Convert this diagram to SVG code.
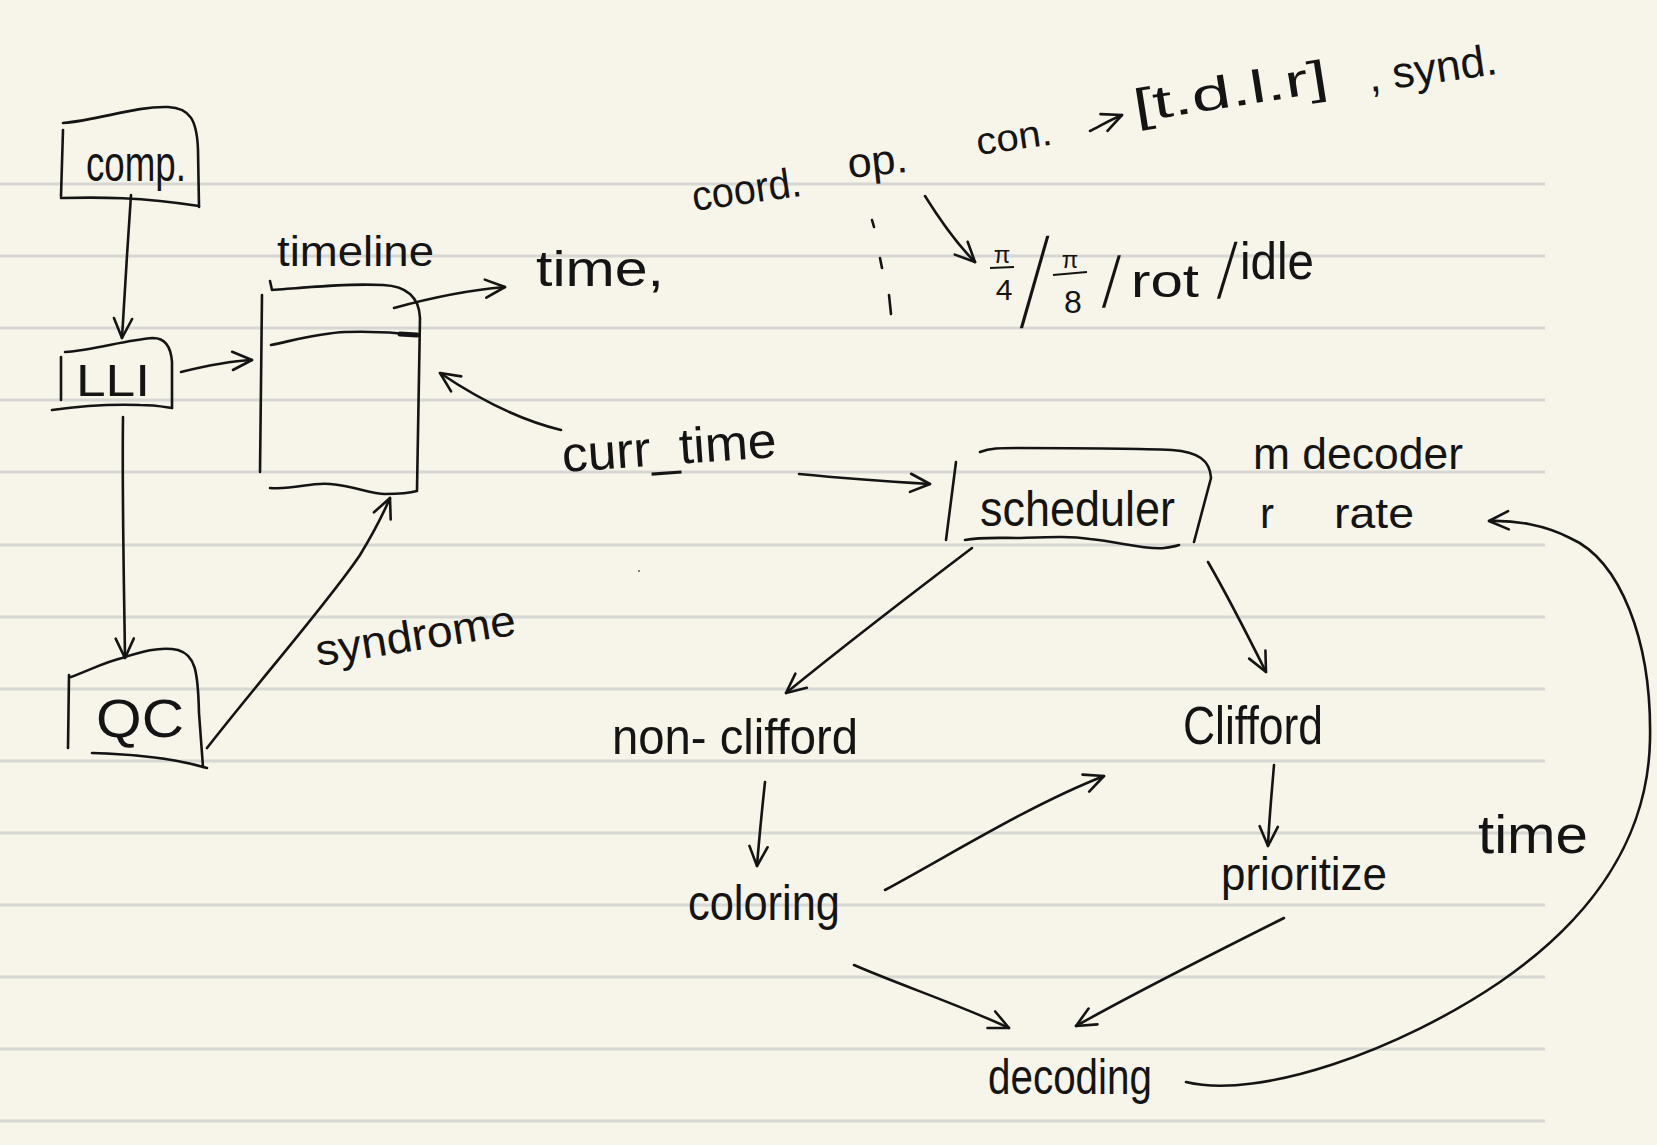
<svg xmlns="http://www.w3.org/2000/svg" width="1657" height="1145" viewBox="0 0 1657 1145">
<style>
.bg{fill:#f7f5e9}
.rule{stroke:#d7d7d3;stroke-width:3}
.ink{fill:none;stroke:#141414;stroke-width:2.6;stroke-linecap:round;stroke-linejoin:round}
.t{font-family:"Liberation Sans","DejaVu Sans",sans-serif;fill:#141414}
</style>
<defs>
<marker id="arr" markerUnits="userSpaceOnUse" markerWidth="26" markerHeight="26" viewBox="0 0 20 20" refX="18" refY="10" orient="auto">
<path d="M3,3 L18,10 L3,17" fill="none" stroke="#141414" stroke-width="2" stroke-linecap="round" stroke-linejoin="round"/>
</marker>
</defs>
<rect class="bg" x="0" y="0" width="1657" height="1145"/>
<g id="rules">
<line class="rule" x1="0" y1="184" x2="1545" y2="184"/>
<line class="rule" x1="0" y1="256" x2="1545" y2="256"/>
<line class="rule" x1="0" y1="328" x2="1545" y2="328"/>
<line class="rule" x1="0" y1="400" x2="1545" y2="400"/>
<line class="rule" x1="0" y1="472" x2="1545" y2="472"/>
<line class="rule" x1="0" y1="545" x2="1545" y2="545"/>
<line class="rule" x1="0" y1="617" x2="1545" y2="617"/>
<line class="rule" x1="0" y1="689" x2="1545" y2="689"/>
<line class="rule" x1="0" y1="761" x2="1545" y2="761"/>
<line class="rule" x1="0" y1="833" x2="1545" y2="833"/>
<line class="rule" x1="0" y1="905" x2="1545" y2="905"/>
<line class="rule" x1="0" y1="977" x2="1545" y2="977"/>
<line class="rule" x1="0" y1="1049" x2="1545" y2="1049"/>
<line class="rule" x1="0" y1="1121" x2="1545" y2="1121"/>
</g>

<g id="node-comp">
<path class="ink" d="M63,130 L61,196"/>
<path class="ink" d="M63,123 C100,120 135,106 168,107 C190,108 197,120 198,150 L199,207"/>
<path class="ink" d="M61,198 C100,197 140,197 199,206"/>
<text class="t" x="86" y="181" font-size="50" textLength="100" lengthAdjust="spacingAndGlyphs">comp.</text>
</g>

<g id="node-lli">
<path class="ink" d="M61,357 L61,400"/>
<path class="ink" d="M65,352 C95,350 125,340 153,338 C166,338 171,348 172,362 L172,408"/>
<path class="ink" d="M52,410 C80,406 110,404 140,405 C155,405 165,407 172,408"/>
<text class="t" x="76" y="396" font-size="44" textLength="74" lengthAdjust="spacingAndGlyphs">LLI</text>
</g>

<g id="node-timeline">
<path class="ink" d="M262,295 L260,472"/>
<path class="ink" d="M270,281 L272,290 C310,287 350,283 383,285 C405,286 419,295 420,318 L417,490"/>
<path class="ink" d="M270,488 C295,490 310,482 330,484 C355,486 370,494 385,494 C400,494 410,493 417,491"/>
<path class="ink" d="M271,345 C295,340 320,333 345,332 C375,331 400,333 417,335"/>
<path d="M400,334 L417,335" stroke="#141414" stroke-width="5" stroke-linecap="round"/>
<text class="t" x="277" y="266" font-size="42" textLength="157" lengthAdjust="spacingAndGlyphs">timeline</text>
</g>

<g id="node-qc">
<path class="ink" d="M69,675 L68,748"/>
<path class="ink" d="M71,677 C90,670 105,662 122,658 C140,652 160,646 178,650 C195,655 198,670 199,713 L203,767"/>
<path class="ink" d="M92,753 C130,754 170,757 207,768"/>
<text class="t" x="96" y="737" font-size="54" textLength="88" lengthAdjust="spacingAndGlyphs">QC</text>
</g>

<g id="node-scheduler">
<path class="ink" d="M956,462 L946,540"/>
<path class="ink" d="M980,452 C990,448 1000,448 1017,448 C1080,448 1130,448 1172,450 C1198,452 1210,460 1211,478 L1194,542"/>
<path class="ink" d="M965,540 C980,537 1000,538 1017,538 C1050,537 1070,536 1090,539 C1120,542 1145,550 1164,548 C1172,547 1176,546 1179,545"/>
<text class="t" x="980" y="526" font-size="50" textLength="195" lengthAdjust="spacingAndGlyphs">scheduler</text>
</g>

<g id="label-time-out">
<text class="t" x="536" y="286" font-size="50" textLength="128" lengthAdjust="spacingAndGlyphs">time,</text>
</g>

<g id="label-coord">
<text class="t" x="694" y="211" font-size="42" textLength="110" lengthAdjust="spacingAndGlyphs" transform="rotate(-8 694 211)">coord.</text>
<text class="t" x="849" y="178" font-size="42" textLength="60" lengthAdjust="spacingAndGlyphs" transform="rotate(-6 849 178)">op.</text>
<text class="t" x="978" y="155" font-size="38" textLength="76" lengthAdjust="spacingAndGlyphs" transform="rotate(-8 978 155)">con.</text>
<text class="t" x="1136" y="122" font-size="46" textLength="196" lengthAdjust="spacingAndGlyphs" transform="rotate(-9 1136 122)">[t.d.l.r]</text>
<text class="t" x="1370" y="92" font-size="44" textLength="130" lengthAdjust="spacingAndGlyphs" transform="rotate(-8 1370 92)">, synd.</text>
</g>

<g id="label-ops">
<text class="t" x="1002" y="263" font-size="24" text-anchor="middle">π</text>
<text class="t" x="1004" y="300" font-size="30" text-anchor="middle">4</text>
<text class="t" x="1070" y="268" font-size="24" text-anchor="middle">π</text>
<text class="t" x="1073" y="313" font-size="32" text-anchor="middle">8</text>
<text class="t" x="0" y="0" font-size="42" transform="translate(1020,327) skewX(-11) scale(1,3)">/</text>
<text class="t" x="0" y="0" font-size="42" transform="translate(1102,307) skewX(-8) scale(1,1.7)">/</text>
<text class="t" x="1131" y="297" font-size="46" textLength="68" lengthAdjust="spacingAndGlyphs">rot</text>
<text class="t" x="0" y="0" font-size="42" transform="translate(1217,298) skewX(-9) scale(1,1.85)">/</text>
<text class="t" x="1240" y="279" font-size="52" textLength="74" lengthAdjust="spacingAndGlyphs">idle</text>
</g>

<g id="label-curr-time">
<text class="t" x="563" y="472" font-size="50" textLength="215" lengthAdjust="spacingAndGlyphs" transform="rotate(-4 563 472)">curr_time</text>
</g>

<g id="label-syndrome">
<text class="t" x="318" y="666" font-size="44" textLength="202" lengthAdjust="spacingAndGlyphs" transform="rotate(-9 318 666)">syndrome</text>
</g>

<g id="label-params">
<text class="t" x="1253" y="469" font-size="44" textLength="210" lengthAdjust="spacingAndGlyphs">m decoder</text>
<text class="t" x="1260" y="528" font-size="42"><tspan>r</tspan><tspan x="1334" textLength="80" lengthAdjust="spacingAndGlyphs">rate</tspan></text>
</g>

<g id="node-nonclifford">
<text class="t" x="612" y="754" font-size="50" textLength="246" lengthAdjust="spacingAndGlyphs">non- clifford</text>
</g>
<g id="node-clifford">
<text class="t" x="1183" y="744" font-size="54" textLength="140" lengthAdjust="spacingAndGlyphs">Clifford</text>
</g>
<g id="node-coloring">
<text class="t" x="688" y="920" font-size="50" textLength="152" lengthAdjust="spacingAndGlyphs">coloring</text>
</g>
<g id="node-prioritize">
<text class="t" x="1221" y="890" font-size="46" textLength="166" lengthAdjust="spacingAndGlyphs">prioritize</text>
</g>
<g id="node-decoding">
<text class="t" x="988" y="1094" font-size="50" textLength="164" lengthAdjust="spacingAndGlyphs">decoding</text>
</g>
<g id="label-time-loop">
<text class="t" x="1478" y="853" font-size="54" textLength="110" lengthAdjust="spacingAndGlyphs">time</text>
</g>

<g id="connectors">
<path class="ink" d="M131,195 C128,240 124,300 122,338" marker-end="url(#arr)"/>
<path class="ink" d="M181,372 C205,366 230,361 252,360" marker-end="url(#arr)"/>
<path class="ink" d="M123,417 C122,500 124,580 125,658" marker-end="url(#arr)"/>
<path class="ink" d="M394,308 C430,298 470,290 505,287" marker-end="url(#arr)"/>
<path class="ink" d="M207,748 C260,680 330,600 360,555 C374,532 384,512 390,498" marker-end="url(#arr)"/>
<path class="ink" d="M561,430 C520,420 480,400 440,373" marker-end="url(#arr)"/>
<path class="ink" d="M799,474 C840,478 880,481 930,484" marker-end="url(#arr)"/>
<path class="ink" d="M925,196 C940,220 955,242 975,262" marker-end="url(#arr)"/>
<path class="ink" d="M1090,131 C1100,126 1110,120 1122,115" marker-end="url(#arr)"/>
<path class="ink" d="M972,548 C910,595 845,645 786,693" marker-end="url(#arr)"/>
<path class="ink" d="M1208,562 C1230,600 1250,640 1266,672" marker-end="url(#arr)"/>
<path class="ink" d="M765,782 C762,810 759,840 757,866" marker-end="url(#arr)"/>
<path class="ink" d="M885,890 C950,855 1030,805 1104,776" marker-end="url(#arr)"/>
<path class="ink" d="M1274,765 C1272,790 1269,820 1268,846" marker-end="url(#arr)"/>
<path class="ink" d="M854,965 C900,985 960,1005 1009,1028" marker-end="url(#arr)"/>
<path class="ink" d="M1284,918 C1210,955 1140,990 1076,1026" marker-end="url(#arr)"/>
<path class="ink" d="M1186,1082 C1260,1100 1400,1050 1500,982 C1590,920 1648,840 1650,740 C1652,640 1620,560 1570,538 C1545,525 1515,520 1489,521" marker-end="url(#arr)"/>
<path class="ink" d="M872,220 L874,227"/>
<path class="ink" d="M880,258 L882,268"/>
<path class="ink" d="M889,295 L891,314"/>
<circle cx="639" cy="571" r="1" fill="#555"/>
<line x1="990" y1="268" x2="1014" y2="267" stroke="#141414" stroke-width="2.2"/>
<line x1="1053" y1="275" x2="1087" y2="272" stroke="#141414" stroke-width="2.2"/>
</g>
</svg>
